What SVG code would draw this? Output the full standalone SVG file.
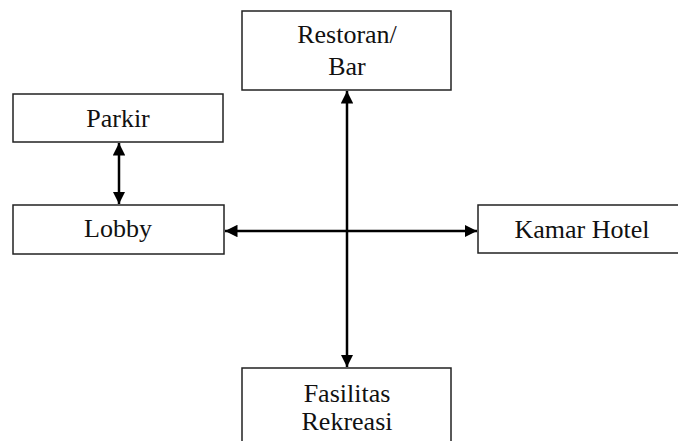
<svg xmlns="http://www.w3.org/2000/svg" width="678" height="441" viewBox="0 0 678 441">
<style>
.box{fill:#fff;stroke:#222;stroke-width:1.5}
.t{font-family:"Liberation Serif","Times New Roman",serif;font-size:26px;fill:#111;text-anchor:middle}
.c{stroke:#000;stroke-width:2.5;fill:none}
</style>
<defs>
<marker id="ah" viewBox="0 0 10 10" refX="10" refY="5" markerWidth="5" markerHeight="5" orient="auto-start-reverse" markerUnits="strokeWidth">
<path d="M0,0 L10,5 L0,10 Z" fill="#000"/>
</marker>
</defs>
<rect width="678" height="441" fill="#fff"/>
<g id="connectors">
<line class="c" x1="119" y1="143" x2="119" y2="204" marker-start="url(#ah)" marker-end="url(#ah)"/>
<line class="c" x1="347" y1="91" x2="347" y2="367" marker-start="url(#ah)" marker-end="url(#ah)"/>
<line class="c" x1="225" y1="231" x2="477" y2="231" marker-start="url(#ah)" marker-end="url(#ah)"/>
</g>
<g id="restoran">
<rect class="box" x="242" y="11" width="209" height="79"/>
<text class="t" x="347" y="43">Restoran/</text>
<text class="t" x="347" y="75">Bar</text>
</g>
<g id="parkir">
<rect class="box" x="13" y="94" width="210" height="48"/>
<text class="t" x="118" y="127">Parkir</text>
</g>
<g id="lobby">
<rect class="box" x="13" y="205" width="211" height="49"/>
<text class="t" x="118" y="237">Lobby</text>
</g>
<g id="kamar">
<rect class="box" x="478" y="205" width="220" height="48"/>
<text class="t" x="582" y="238">Kamar Hotel</text>
</g>
<g id="fasilitas">
<rect class="box" x="242" y="368" width="209" height="80"/>
<text class="t" x="347" y="402">Fasilitas</text>
<text class="t" x="347" y="430">Rekreasi</text>
</g>
</svg>
